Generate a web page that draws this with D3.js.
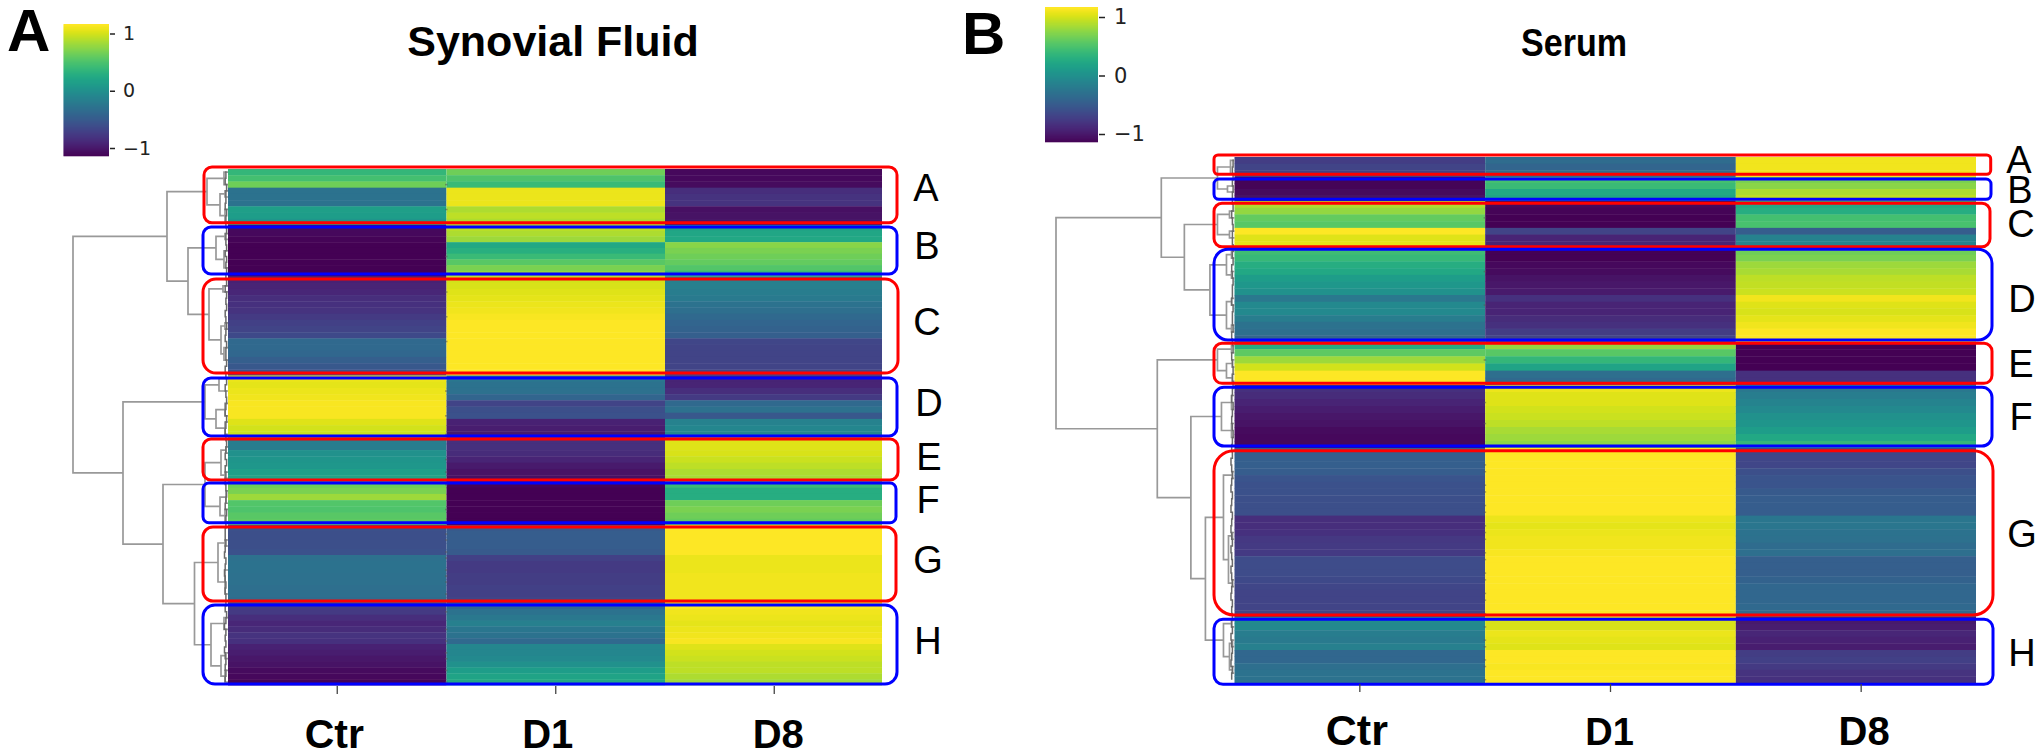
<!DOCTYPE html>
<html><head><meta charset="utf-8">
<script src="https://cdn.jsdelivr.net/npm/d3@7"></script>
<style>html,body{margin:0;background:#fff}svg{display:block}</style>
</head><body><svg id="c" width="2040" height="755"></svg>
<script>
const groups=["Ctr","D1","D8"];
const clusterNames=["A","B","C","D","E","F","G","H"];
const colorTicks=[-1,0,1];

// Synovial fluid: z-scores per row, top to bottom
const sfRowsPerCluster=[9,9,16,10,7,7,13,14];
const sfCtr=[.37,.46,.64,-.28,-.28,-.28,.14,.12,.05,
-1.08,-1.10,-1.13,-1.15,-1.15,-1.15,-1.15,-1.15,-1.15,
-.94,-.92,-.90,-.85,-.83,-.81,-.76,-.71,-.69,-.64,-.37,-.37,-.39,-.46,-.53,-.58,
1.08,1.06,1.08,1.10,1.13,1.13,1.13,1.04,.99,.97,
-.18,-.18,0,.05,.07,.14,.18,
.64,.69,.81,.53,.51,.55,.58,
-.58,-.60,-.60,-.60,-.58,-.30,-.28,-.28,-.30,-.30,-.32,-.32,-.35,
-.74,-.76,-.85,-.90,-.87,-.81,-.83,-.94,-.97,-1.01,-1.04,-1.08,-1.10,-1.13];
const sfD1=[.64,.51,.41,1.08,1.08,1.08,.87,.92,.87,
.92,.87,.81,.23,.30,.41,.55,.69,.78,
.99,1.01,1.04,1.06,1.08,1.10,1.13,1.15,1.15,1.15,1.15,1.15,1.15,1.15,1.15,1.15,
-.23,-.28,-.30,-.41,-.69,-.60,-.58,-.94,-.97,-.99,
-.83,-.83,-.87,-.92,-.99,-1.04,-1.06,
-1.13,-1.15,-1.15,-1.15,-1.15,-1.15,-1.15,
-.51,-.48,-.48,-.48,-.51,-.71,-.76,-.76,-.74,-.74,-.71,-.71,-.69,
-.39,-.28,-.23,-.16,-.25,-.28,-.37,-.09,-.09,-.07,0,.12,.18,.23];
const sfD8=[-1.10,-1.10,-1.08,-.85,-.81,-.81,-1.06,-1.04,-1.01,
.18,.21,.23,.74,.69,.64,.60,.53,.41,
-.16,-.16,-.18,-.21,-.28,-.32,-.37,-.41,-.44,-.46,-.67,-.69,-.69,-.69,-.69,-.69,
-.92,-.92,-.85,-.76,-.37,-.30,-.53,-.14,-.09,-.09,
1.04,1.04,1.01,.97,.92,.87,.85,
.41,.28,.28,.64,.69,.64,.60,
1.15,1.15,1.15,1.15,1.15,1.08,1.08,1.08,1.10,1.10,1.10,1.10,1.10,
1.15,1.10,1.08,1.06,1.08,1.10,1.13,1.04,.99,.97,.92,.92,.87,.83];
// Serum
const seRowsPerCluster=[3,4,7,14,6,9,25,10];
const seCtr=[-.74,-.69,-.71,
-1.13,-1.13,-1.08,-1.04,
.87,.78,.60,.55,1.15,1.04,1.06,
.44,.39,.28,.23,.12,.07,0,-.23,-.07,-.07,-.18,-.28,-.32,-.41,
.28,.58,.81,.99,1.15,1.15,
-.83,-.87,-.92,-.97,-1.01,-1.04,-1.08,-1.10,-1.10,
-.46,-.46,-.46,-.48,-.55,-.58,-.58,-.60,-.60,-.60,-.85,-.85,-.83,-.78,-.76,-.76,-.62,-.62,-.62,-.64,-.67,-.69,-.69,-.69,-.69,
-.05,-.07,-.18,-.21,-.16,-.39,-.39,-.32,-.28,-.28];
const seD1=[-.35,-.41,-.35,
.46,.41,.23,.18,
-1.10,-1.13,-1.15,-1.15,-.69,-.92,-.92,
-1.15,-1.15,-1.10,-1.08,-1.04,-1.01,-.99,-.83,-.92,-.92,-.87,-.83,-.74,-.69,
.78,.55,.37,.18,-.32,-.37,
1.08,1.04,1.04,.99,.97,.92,.85,.81,.76,
1.15,1.15,1.15,1.15,1.15,1.15,1.15,1.15,1.15,1.15,1.08,1.06,1.08,1.10,1.10,1.13,1.15,1.15,1.15,1.15,1.15,1.15,1.15,1.15,1.15,
1.01,1.01,1.08,1.06,1.04,1.15,1.15,1.13,1.15,1.15];
const seD8=[1.10,1.10,1.10,
.69,.74,.87,.92,
.23,.28,.46,.48,-.48,-.14,-.14,
.64,.69,.81,.85,.92,.94,.97,1.10,1.04,1.01,1.06,1.10,1.15,1.15,
-1.15,-1.15,-1.15,-1.15,-.83,-.83,
-.23,-.18,-.12,-.07,0,.05,.12,.23,.37,
-.67,-.67,-.67,-.60,-.55,-.55,-.51,-.48,-.48,-.48,-.25,-.25,-.28,-.30,-.35,-.32,-.46,-.46,-.46,-.44,-.39,-.39,-.39,-.37,-.37,
-.99,-.97,-.90,-.94,-.97,-.74,-.71,-.76,-.81,-.83];

// Dendrograms: [height, childA, childB]; a number child is a row index
const sfTree=[155,
 [61,
  [21,[4,0,2],[8,[3,3,4],[3,6,8]]],
  [40,[12,[3,10,11],[4,13,16]],
      [19,[5,19,20],[7,[3,25,26],[4,29,31]]]]],
 [105,
  [23,[9,34,36],[12,[3,38,40],[3,41,43]]],
  [65,
   [23,[7,[2,45,46],[3,49,50]],[8,[2,52,54],[3,55,57]]],
   [33.5,[10,[3,60,61],[3,65,69]],[17,[4,73,75],[7,[2,79,80],[3,82,84]]]]]]];
const seTree=[178,
 [73,
  [17,[4,0,2],[7,4,5]],
  [50,[17,[5,8,9],[5,11,12]],
      [24.5,[8,[3,14,15],[3,17,18]],[8,[3,21,22],[3,25,26]]]]],
 [77,
  [17,[3,28,29],[8,[2,30,31],[2,32,33]]],
  [43.5,
   [13,[3,35,37],[3,39,41]],
   [29,[11,[2,46,47],[6,[2,55,56],[2,62,63]]],[11,[3,68,69],[5,[2,71,72],[2,75,76]]]]]]];
// Height of the tiny leaf merges next to each row
const sfLeaf=[2,3,4,2,3,3,4,2,3, 3,2,3,3,2,4,2,3,2, 3,2,4,2,3,2,4,3,2,3,4,2,3,3,2,4, 3,2,4,3,2,3,4,2,3,4, 3,2,3,4,2,4,3, 4,3,2,3,4,2,3, 3,4,4,3,4,5,3,4,5,4,3,4,3, 3,4,2,3,5,3,4,3,5,4,3,4,3,4];
const seLeaf=[3,2,3, 2,3,2,3, 3,2,4,3,2,3,3, 2,3,2,4,3,2,3,3,4,2,3,3,2,4, 3,2,4,3,2,3, 2,3,4,2,3,4,3,2,3, 4,3,5,4,3,4,5,3,4,5,3,4,5,4,3,5,4,3,5,4,3,4,5,3,4, 3,4,3,5,4,3,4,5,3,4];

const viridis=d3.scaleSequential(d3.interpolateViridis).domain([-1.15,1.15]);
const svg=d3.select("#c");
const SANS="'Liberation Sans',Arial,sans-serif";

function panel(o){
  const g=svg.append("g");
  const cum=d3.cumsum([0,...o.rows]);
  const y=d3.scaleLinear().domain(cum).range(o.edges);
  const x=d3.scaleBand().domain(groups).range(o.xRange);
  const right=o.clipRight;

  // Heatmap rows
  groups.forEach((name,c)=>{
    g.append("g").selectAll("rect").data(o.cols[c]).join("rect")
     .attr("x",x(name))
     .attr("width",Math.min(x.bandwidth(),right-x(name)))
     .attr("y",(d,i)=>y(i))
     .attr("height",(d,i)=>y(i+1)-y(i)+.4)
     .attr("fill",d=>viridis(d));
  });
  // small leaf marks on the column seam
  g.append("g").selectAll("rect").data(o.leaf).join("rect")
    .attr("x",x("D1")-1.5).attr("width",d=>d>=4?2.5:0).attr("height",1.5)
    .attr("y",(d,i)=>y(i+.5)-.7).attr("fill","#555").attr("opacity",.55);

  // Dendrogram
  const hx=d3.scaleLinear().domain([0,o.tree[0]]).range([o.xRange[0],o.rootX]);
  const segs=[];
  const walk=t=>{
    if(typeof t==="number") return {yy:y(t+.5),h:0};
    const a=walk(t[1]),b=walk(t[2]);
    segs.push({h:t[0],a,b});
    return {yy:(a.yy+b.yy)/2,h:t[0]};
  };
  walk(o.tree);
  g.append("g").attr("fill","none").attr("stroke","#999").attr("stroke-width",1.7)
   .selectAll("path").data(segs).join("path")
   .attr("d",s=>`M${hx(s.a.h)},${s.a.yy}H${hx(s.h)}V${s.b.yy}H${hx(s.b.h)}`);
  const leafLine=d3.line().curve(d3.curveStepAfter).x(d=>hx(d[0])).y(d=>y(d[1]));
  g.append("path").attr("fill","none").attr("stroke","#6a6a6a").attr("stroke-width",1.5)
   .attr("d",leafLine(o.leaf.map((d,i)=>[d*.7,i+.5])));

  // Cluster outlines
  g.append("g").attr("fill","none").attr("stroke-width",3)
   .selectAll("rect").data(o.rows).join("rect")
   .attr("x",(d,i)=>o.boxLeft[i]).attr("width",(d,i)=>o.boxRight[i]-o.boxLeft[i])
   .attr("y",(d,i)=>o.boxTop[i]).attr("height",(d,i)=>o.boxBottom[i]-o.boxTop[i])
   .attr("rx",(d,i)=>o.boxR[i]).attr("stroke",(d,i)=>i%2?"#0000ff":"#ff0000");

  // Cluster letters
  g.append("g").attr("font-family",SANS).attr("font-size",38).attr("text-anchor","middle")
   .selectAll("text").data(clusterNames).join("text")
   .attr("x",(d,i)=>o.letterX[i]).attr("y",(d,i)=>o.letterY[i]).text(d=>d);

  // X axis
  const ax=g.append("g").attr("transform",`translate(0,${o.edges[o.edges.length-1]+1})`)
    .call(d3.axisBottom(x).tickSize(8).tickPadding(0));
  ax.select(".domain").remove();
  ax.selectAll("line").attr("stroke","#444").attr("stroke-width",1.3);
  ax.selectAll("text").attr("font-family",SANS).attr("font-weight","bold")
    .attr("font-size",(d,i)=>o.labelSize[i])
    .attr("fill","#000").attr("dx",(d,i)=>o.labelDx[i]).attr("dy",0)
    .attr("y",o.labelBase-o.edges[o.edges.length-1]-1);

  // Colour bar
  const cb=d3.scaleLinear().domain([1,-1]).range(o.cbTicks);
  const cbVals=d3.range(o.cbBox[2],o.cbBox[3]);
  g.append("g").selectAll("rect").data(cbVals).join("rect")
    .attr("x",o.cbBox[0]).attr("width",o.cbBox[1]-o.cbBox[0]).attr("y",d=>d).attr("height",1.3)
    .attr("fill",d=>viridis(cb.invert(d+.5)));
  const cax=g.append("g").attr("transform",`translate(${o.cbBox[1]},0)`)
    .call(d3.axisRight(cb).tickValues(colorTicks).tickFormat(d3.format("d")).tickSize(o.cbTick).tickPadding(o.cbPad));
  cax.select(".domain").remove();
  cax.selectAll("line").attr("stroke","#222").attr("stroke-width",1.5).attr("x1",1);
  cax.selectAll("text").attr("font-family","'DejaVu Sans',sans-serif").attr("font-size",o.cbFont).attr("fill","#222");

  // Titles
  const tt=g.append("text").attr("x",o.titleX).attr("y",o.titleY).attr("text-anchor","middle")
   .attr("font-family",SANS).attr("font-weight","bold").attr("font-size",o.titleSize).text(o.title);
  if(o.titleLen) tt.attr("textLength",o.titleLen).attr("lengthAdjust","spacingAndGlyphs");
  g.append("text").attr("x",o.tagX).attr("y",o.tagY)
   .attr("font-family",SANS).attr("font-weight","bold").attr("font-size",60).text(o.tag);
}

panel({title:"Synovial Fluid",tag:"A",tagX:7,tagY:51,titleX:553,titleY:56,titleSize:43,
  cols:[sfCtr,sfD1,sfD8],rows:sfRowsPerCluster,tree:sfTree,leaf:sfLeaf,
  edges:[169,225,276.5,375.5,437.5,481.5,525,603,685],
  xRange:[228,883.5],clipRight:882,rootX:73,
  boxLeft:[204,203,203,203,203,203,203,203],
  boxRight:[897,897,898,897,898,896,896,897],
  boxTop:[167,227,279,378,439,483,527,605],
  boxBottom:[222.7,274,373,436,480,522.7,601,684],
  boxR:[8,8,13,8,8,6,10,12],
  letterX:[926,927,927,929,929,928,928,928],
  letterY:[201,259,335,416,470,513,573,654],
  labelDx:[-3,-8,4],labelSize:[41,40,40],labelBase:748,
  cbBox:[63.5,109,24,156],cbTicks:[33.5,148],cbTick:6,cbPad:8,cbFont:19});

panel({title:"Serum",tag:"B",tagX:962,tagY:54,titleX:1574,titleY:56,titleSize:39,titleLen:106,
  cols:[seCtr,seD1,seD8],rows:seRowsPerCluster,tree:seTree,leaf:seLeaf,
  edges:[157,177,201,248,342,385,448,617,683],
  xRange:[1234.5,1986.5],clipRight:1976,rootX:1056,
  boxLeft:[1214,1214,1214,1214,1214,1214,1214,1214],
  boxRight:[1990.7,1991,1990,1992,1992,1992,1993,1993],
  boxTop:[155,179,203.3,249.3,343.3,387.3,450.7,619.3],
  boxBottom:[174.3,199.3,246.7,340,383.3,446,615,684.3],
  boxR:[4,5,8,14,8,10,20,9],
  letterX:[2019,2020,2021,2022,2021,2021,2022,2022],
  letterY:[173,203,237,312,377,430,547,666],
  labelDx:[-3,-1,3],labelSize:[43,38,40],labelBase:745,
  cbBox:[1045,1098,7,142],cbTicks:[17,134],cbTick:7,cbPad:9,cbFont:21});
</script></body></html>
